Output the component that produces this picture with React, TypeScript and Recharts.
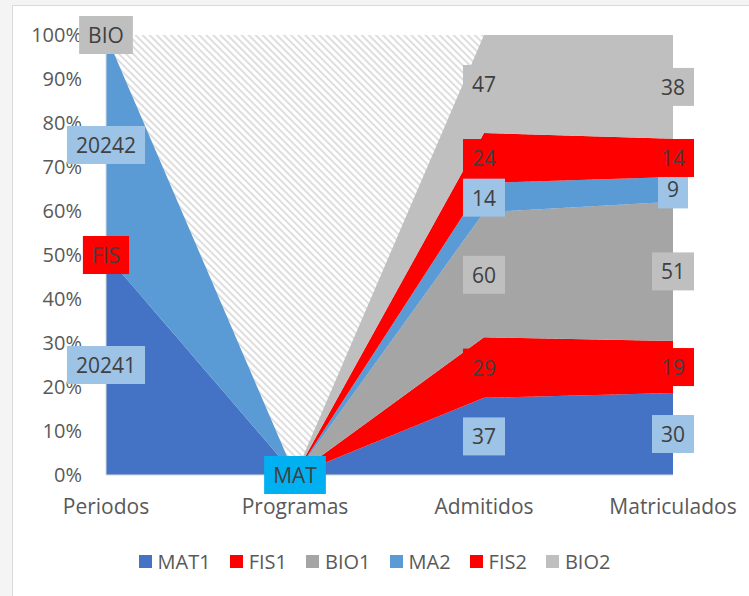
import React from "react";
import {
  ComposedChart,
  Area,
  Line,
  XAxis,
  YAxis,
  CartesianGrid,
  Legend,
  LabelList,
} from "recharts";

const CATEGORIES = ["Periodos", "Programas", "Admitidos", "Matriculados"];

const MAT1 = [20241, 0, 37, 30];
const FIS1 = [0, 0, 29, 19];
const BIO1 = [0, 0, 60, 51];
const MA2 = [20242, 0, 14, 9];
const FIS2 = [0, 0, 24, 14];
const BIO2 = [0, 0, 47, 38];

// data label texts as shown on the sheet ("" = no label)
const MAT1_LABELS = ["20241", "MAT", "37", "30"];
const FIS1_LABELS = ["FIS", "", "29", "19"];
const BIO1_LABELS = ["", "", "60", "51"];
const MA2_LABELS = ["20242", "", "14", "9"];
const FIS2_LABELS = ["", "", "24", "14"];
const BIO2_LABELS = ["BIO", "", "47", "38"];

const Y_TICKS = [0, 0.1, 0.2, 0.3, 0.4, 0.5, 0.6, 0.7, 0.8, 0.9, 1];

const SERIES = [
  { key: "MAT1", values: MAT1, labels: MAT1_LABELS, fill: "#4472C4", labelFill: "#9DC3E6" },
  { key: "FIS1", values: FIS1, labels: FIS1_LABELS, fill: "#FF0000", labelFill: "#FF0000" },
  { key: "BIO1", values: BIO1, labels: BIO1_LABELS, fill: "#A5A5A5", labelFill: "#BFBFBF" },
  { key: "MA2", values: MA2, labels: MA2_LABELS, fill: "#5B9BD5", labelFill: "#9DC3E6" },
  { key: "FIS2", values: FIS2, labels: FIS2_LABELS, fill: "#FF0000", labelFill: "#FF0000" },
  { key: "BIO2", values: BIO2, labels: BIO2_LABELS, fill: "#BFBFBF", labelFill: "#BFBFBF" },
];

// the "MAT" label on Programas has its own highlight
const LABEL_HIGHLIGHT: Record<string, string> = { MAT: "#00B0F0" };

const FONT = "'Open Sans', 'DejaVu Sans', sans-serif";
const LABEL_SIZE = 21;

// one row per category, plus the middle of each stacked band (share of total) for labels
const rows = CATEGORIES.map((name, i) => {
  const row: any = { name };
  const total = SERIES.reduce((sum, s) => sum + s.values[i], 0);
  let cum = 0;
  SERIES.forEach((s) => {
    const v = s.values[i];
    row[s.key] = v;
    row[`${s.key}_mid`] = total ? (cum + v / 2) / total : 0;
    cum += v;
  });
  return row;
});

let ctx: CanvasRenderingContext2D | null = null;
function textWidth(t: string) {
  if (!ctx) ctx = document.createElement("canvas").getContext("2d");
  if (!ctx) return t.length * 12;
  ctx.font = `${LABEL_SIZE}px ${FONT}`;
  return ctx.measureText(t).width;
}

const makeLabel = (s: (typeof SERIES)[number]) => (props: any) => {
  const { index } = props;
  const x = props.x ?? props.viewBox?.x;
  const y = props.y ?? props.viewBox?.y;
  const text = s.labels[index];
  if (!text || x == null || y == null) return null;
  const bg = LABEL_HIGHLIGHT[text] ?? s.labelFill;
  const w = textWidth(text) + 18;
  return (
    <g>
      <rect x={x - w / 2} y={y - 19} width={w} height={38} fill={bg} />
      <text
        x={x}
        y={y}
        textAnchor="middle"
        dominantBaseline="central"
        fontSize={LABEL_SIZE}
        fontFamily={FONT}
        fill="#404040"
      >
        {text}
      </text>
    </g>
  );
};

// keep the series order (Recharts sorts the payload by name)
const renderLegend = (props: any) => {
  const keys = new Set((props.payload || []).map((p: any) => p.dataKey));
  return (
    <div
      style={{
        display: "flex",
        justifyContent: "center",
        alignItems: "center",
        height: 56,
        fontFamily: FONT,
      }}
    >
      {SERIES.filter((s) => keys.has(s.key)).map((s) => (
        <div key={s.key} style={{ display: "flex", alignItems: "center", margin: "0 9.5px" }}>
          <span style={{ width: 13, height: 13, background: s.fill, marginRight: 6, display: "inline-block" }} />
          <span style={{ fontSize: 20, color: "#595959" }}>{s.key}</span>
        </div>
      ))}
    </div>
  );
};

export default function App() {
  return (
    <div
      style={{
        position: "absolute",
        left: 0,
        top: 0,
        width: 749,
        height: 596,
        background: "#F4F4F4",
        fontFamily: FONT,
        overflow: "hidden",
      }}
    >
      <div
        style={{
          position: "absolute",
          left: 12,
          top: 5,
          width: 760,
          height: 620,
          background: "#FFFFFF",
          borderLeft: "1px solid #D9D9D9",
          borderTop: "1px solid #D9D9D9",
        }}
      />
      <div style={{ position: "absolute", left: 0, top: 0 }}>
        <ComposedChart
          width={749}
          height={596}
          data={rows}
          stackOffset="expand"
          margin={{ top: 35, right: 76, left: 0, bottom: 7 }}
        >
          <defs>
            <pattern
              id="hatch"
              width="5"
              height="5"
              patternUnits="userSpaceOnUse"
              patternTransform="rotate(-45)"
            >
              <rect width="5" height="5" fill="#FFFFFF" />
              <line x1="1" y1="0" x2="1" y2="5" stroke="#DEDEDE" strokeWidth="2" />
            </pattern>
          </defs>
          <CartesianGrid horizontal={false} vertical={false} fill="url(#hatch)" />
          <XAxis
            dataKey="name"
            scale="point"
            padding={{ left: 0, right: 0 }}
            height={58}
            tickSize={0}
            tickMargin={24}
            tickLine={false}
            axisLine={{ stroke: "#D9D9D9" }}
            tick={{ fontSize: 21, fill: "#595959", fontFamily: FONT }}
          />
          <YAxis
            type="number"
            domain={[0, 1]}
            ticks={Y_TICKS}
            width={106}
            tickSize={0}
            tickMargin={24}
            tickLine={false}
            axisLine={{ stroke: "#D9D9D9" }}
            tickFormatter={(v) => `${Math.round(v * 100)}%`}
            tick={{ fontSize: 20, fill: "#595959", fontFamily: FONT }}
          />
          {SERIES.map((s) => (
            <Area
              key={s.key}
              type="linear"
              dataKey={s.key}
              name={s.key}
              stackId="1"
              stroke="none"
              fill={s.fill}
              fillOpacity={1}
              isAnimationActive={false}
              activeDot={false}
            />
          ))}
          {SERIES.map((s) => (
            <Line
              key={`${s.key}_lbl`}
              dataKey={`${s.key}_mid`}
              stroke="none"
              dot={false}
              activeDot={false}
              legendType="none"
              isAnimationActive={false}
            >
              <LabelList content={makeLabel(s)} />
            </Line>
          ))}
          <Legend
            verticalAlign="bottom"
            height={56}
            width={749}
            wrapperStyle={{ left: 0, width: 749 }}
            content={renderLegend}
          />
        </ComposedChart>
      </div>
    </div>
  );
}
